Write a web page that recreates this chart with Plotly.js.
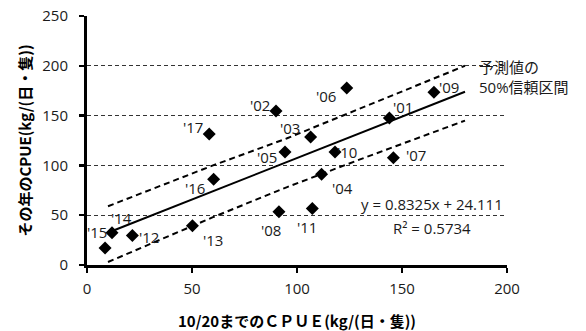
<!DOCTYPE html>
<html>
<head>
<meta charset="utf-8">
<script src="https://cdn.plot.ly/plotly-3.0.1.min.js"></script>
<style>html,body{margin:0;padding:0;background:#fff;}#chart{width:586px;height:331px;}</style>
</head>
<body>
<div id="chart"></div>
<script>
// ---- data ----
var years = ["'01","'02","'03","'04","'05","'06","'07","'08","'09","'10","'11","'12","'13","'14","'15","'16","'17"];
var cpueOct20 = [144, 90, 106.5, 111.7, 94.3, 123.7, 145.9, 91.4, 165.2, 118.1, 107.3, 21.6, 50.2, 11.9, 8.6, 60.3, 58.2];
var cpueYear  = [147.5, 154.5, 128.5, 91, 113.5, 177.7, 107.8, 53.5, 173.5, 113.5, 56.7, 29.5, 39.5, 32.3, 17, 86, 131.5];
// label anchor positions (data coords) for each year label
var labelX = [150.5, 82.4, 96.7, 121.9, 85.7, 113.8, 156.7, 87.6, 172.4, 123.8, 104.8, 29.5, 60, 16.2, 4.8, 51.4, 50.5];
var labelY = [158.3, 161, 138, 77.7, 108.3, 170, 110, 35, 178.3, 113.3, 38.3, 28.3, 25, 47, 33, 77, 138.3];
var trendX = [12, 180];
var trendY = [34.1, 174.0];
var bandX = [10, 60, 95, 130, 180];
var bandUpper = [59, 100, 127, 157, 200];
var bandLower = [3, 48, 78, 106, 145];
var xTicks = [0, 50, 100, 150, 200];
var yTicks = [0, 50, 100, 150, 200, 250];
var eqText = "y = 0.8325x + 24.111";
var r2Text = "R² = 0.5734";
var bandLabel = "予測値の<br>50%信頼区間";
var xTitle = "10/20までのＣＰＵＥ(kg/(日・隻))";
var yTitle = "その年のCPUE(kg/(日・隻))";

var latin = "Open Sans, Noto Sans CJK JP, sans-serif";
var cjkBold = "Noto Sans CJK JP, sans-serif";
var txtColor = "#1a1a1a";

var traces = [
  {x: bandX, y: bandUpper, mode: "lines", line: {color: "#000", width: 2, dash: "6px,4px"}, hoverinfo: "skip"},
  {x: bandX, y: bandLower, mode: "lines", line: {color: "#000", width: 2, dash: "6px,4px"}, hoverinfo: "skip"},
  {x: trendX, y: trendY, mode: "lines", line: {color: "#000", width: 2}, hoverinfo: "skip"},
  {x: cpueOct20, y: cpueYear, mode: "markers", marker: {symbol: "diamond", size: 10, color: "#000"}}
];

var annotations = years.map(function (t, i) {
  return {x: labelX[i], y: labelY[i], xref: "x", yref: "y", text: t, showarrow: false,
          xanchor: "center", yanchor: "middle",
          font: {family: latin, size: 15, color: txtColor}};
});
annotations.push({x: 432, y: 204, xref: "paper", yref: "paper", text: eqText, showarrow: false,
  xanchor: "center", yanchor: "middle", font: {family: latin, size: 15, color: txtColor}});
annotations.push({x: 432, y: 228, xref: "paper", yref: "paper", text: r2Text, showarrow: false,
  xanchor: "center", yanchor: "middle", font: {family: latin, size: 15, color: txtColor}});
annotations.push({x: 477, y: 77, xref: "paper", yref: "paper", text: bandLabel, showarrow: false,
  xanchor: "left", yanchor: "middle", align: "left",
  font: {family: latin, size: 15, color: txtColor}});

// convert pixel-positioned paper annotations
var L = 87, R = 79, T = 16, B = 66, W = 586, H = 331;
annotations.forEach(function (a) {
  if (a.xref === "paper") {
    a.x = (a.x - L) / (W - L - R);
    a.y = 1 - (a.y - T) / (H - T - B);
  }
});

var layout = {
  width: W, height: H,
  margin: {l: L, r: R, t: T, b: B},
  paper_bgcolor: "#fff", plot_bgcolor: "#fff",
  showlegend: false,
  xaxis: {
    range: [0, 200], tickvals: xTicks, ticks: "outside", ticklen: 5, tickwidth: 2.5, tickcolor: "#000",
    showline: true, linecolor: "#000", linewidth: 3, showgrid: false, zeroline: false,
    tickfont: {family: latin, size: 15, color: txtColor},
    ticklabelstandoff: 3,
    title: {text: xTitle, font: {family: cjkBold, size: 15, color: "#000", weight: "bold"}, standoff: 20}
  },
  yaxis: {
    range: [0, 250], tickvals: yTicks, ticks: "outside", ticklen: 5, tickwidth: 2.5, tickcolor: "#000",
    showline: true, linecolor: "#000", linewidth: 3, showgrid: true, gridcolor: "#333", gridwidth: 1, griddash: "4px,3px",
    zeroline: false,
    tickfont: {family: latin, size: 15, color: txtColor},
    ticklabelstandoff: 8,
    title: {text: yTitle, font: {family: cjkBold, size: 15, color: "#000", weight: "bold"}, standoff: 8}
  },
  annotations: annotations
};

Plotly.newPlot("chart", traces, layout, {staticPlot: true});
</script>
</body>
</html>
